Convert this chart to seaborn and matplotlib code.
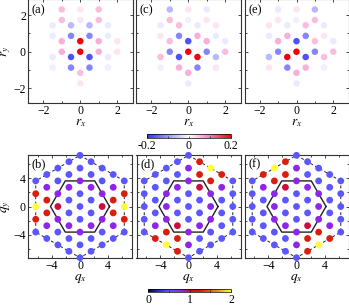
import numpy as np
import matplotlib
matplotlib.use("Agg")
import matplotlib.pyplot as plt
import seaborn as sns
from matplotlib.colors import LinearSegmentedColormap, Normalize
from matplotlib.cm import ScalarMappable

# ---- real-space correlations on the honeycomb lattice ----
# x in lattice units, y in steps of a/(2*sqrt(3))
rx = [-1, 0, 1,
      -1, 0, 1,
      -1.5, -0.5, 0.5, 1.5,
      -1.5, -0.5, 0.5, 1.5,
      -1, 0, 1, 2,
      -1, 0, 1, 2,
      -1.5, -0.5, 0.5, 1.5,
      -1.5, -0.5, 0.5, 1.5,
      0,
      0]
ry_step = [8, 8, 8, 6, 6, 6, 5, 5, 5, 5, 3, 3, 3, 3, 2, 2, 2, 2,
           0, 0, 0, 0, -1, -1, -1, -1, -3, -3, -3, -3, -4, -6]

corr_a = [.05, .02, .05,
          .05, .02, .05,
          -.02, -.07, -.07, -.02,
          -.02, -.12, -.12, -.02,
          .06, .2, .06, .02,
          .06, .2, .06, .02,
          -.02, -.17, -.17, -.02,
          -.015, -.12, -.12, -.015,
          .05,
          .02]
corr_c = [-.07, .02, -.02,
          .05, -.015, .02,
          -.02, .05, -.02, .02,
          .02, -.12, .06, -.02,
          .05, -.17, .06, -.02,
          -.12, .2, -.12, .05,
          .05, -.17, .2, -.07,
          -.015, .06, -.12, .02,
          .06,
          -.02]
corr_e = [-.02, .02, -.07,
          .02, -.015, .05,
          .02, -.02, .05, -.02,
          -.02, .06, -.12, .02,
          .06, -.17, .05, -.02,
          -.12, .2, -.12, .05,
          -.07, .2, -.17, .05,
          .02, -.12, .06, -.015,
          .06,
          -.02]

# ---- structure factor on the cluster momenta ----
# qx = m*pi/2, qy = n*pi/(2*sqrt(3))
q_m = [-4]*5 + [-3]*6 + [-2]*7 + [-1]*8 + [0]*9 + [1]*8 + [2]*7 + [3]*6 + [4]*5
q_n = ([4, 2, 0, -2, -4] + [5, 3, 1, -1, -3, -5] + [6, 4, 2, 0, -2, -4, -6]
       + [7, 5, 3, 1, -1, -3, -5, -7] + [8, 6, 4, 2, 0, -2, -4, -6, -8]
       + [7, 5, 3, 1, -1, -3, -5, -7] + [6, 4, 2, 0, -2, -4, -6]
       + [5, 3, 1, -1, -3, -5] + [4, 2, 0, -2, -4])

sq_b = [.5, 1.25, 2.0, 1.25, .5,
        .5, .85, 1.25, 1.25, .85, .5,
        .5, .5, .85, 1.0, .85, .5, .5,
        .5, .5, .85, .5, .5, .85, .5, .5,
        .5, .5, .85, .5, .5, .5, .85, .5, .5,
        .5, .5, .85, .5, .5, .85, .5, .5,
        .5, .5, .85, 1.0, .85, .5, .5,
        .5, .85, 1.25, 1.25, .85, .5,
        .5, 1.25, 2.0, 1.25, .5]
sq_d = [.5, .5, .5, .5, .5,
        .5, .5, .5, .5, .85, 1.25,
        .5, .5, .85, .85, .85, 1.25, 2.0,
        .5, .5, .85, .5, .5, 1.0, 1.25, 1.25,
        .5, .85, .85, .5, .5, .5, .85, .85, .5,
        1.25, 1.25, 1.0, .5, .5, .85, .5, .5,
        2.0, 1.25, .85, .85, .85, .5, .5,
        1.25, .85, .5, .5, .5, .5,
        .5, .5, .5, .5, .5]
sq_f = [.5, .5, .5, .5, .5,
        1.25, .85, .5, .5, .5, .5,
        2.0, 1.25, .85, .85, .85, .5, .5,
        1.25, 1.25, 1.0, .5, .5, .85, .5, .5,
        .5, .85, .85, .5, .5, .5, .85, .85, .5,
        .5, .5, .85, .5, .5, 1.0, 1.25, 1.25,
        .5, .5, .85, .85, .85, 1.25, 2.0,
        .5, .5, .5, .5, .85, 1.25,
        .5, .5, .5, .5, .5]

plt.rcParams["font.family"] = ["Liberation Serif", "DejaVu Serif"]
plt.rcParams["mathtext.fontset"] = "stix"

h = 1 / (2 * np.sqrt(3))
x_r = np.array(rx, dtype=float)
y_r = np.array(ry_step) * h
x_q = np.array(q_m) * np.pi / 2
y_q = np.array(q_n) * np.pi / (2 * np.sqrt(3))

cmap_r = LinearSegmentedColormap.from_list(
    "rw", [(0.0, (0.2, 0.2, 0.98)), (0.5, (1, 1, 1)),
           (0.72, (0.96, 0.55, 0.78)), (1.0, (0.95, 0.0, 0.05))])
cmap_q = LinearSegmentedColormap.from_list(
    "sq", [(0.0, (0.05, 0.0, 0.15)), (0.15, (0.2, 0.2, 0.85)),
           (0.25, (0.36, 0.34, 1.0)), (0.42, (0.55, 0.15, 0.95)),
           (0.5, (0.8, 0.05, 0.25)), (0.62, (0.85, 0.1, 0.05)),
           (0.82, (0.96, 0.5, 0.05)), (1.0, (1.0, 1.0, 0.2))])
norm_r = Normalize(-0.2, 0.2)
norm_q = Normalize(0, 2)

W, H = 349, 306
fig = plt.figure(figsize=(W / 100, H / 100), dpi=100)


def box(x0, y0, x1, y1):
    return fig.add_axes([x0 / W, 1 - y1 / H, (x1 - x0) / W, (y1 - y0) / H])


def style(ax):
    ax.tick_params(which="both", direction="in", top=True, right=True,
                   width=0.5, labelsize=8.5, pad=1.5)
    ax.tick_params(which="major", length=2.5)
    ax.tick_params(which="minor", length=1.5)
    for s in ax.spines.values():
        s.set_linewidth(0.8)
        s.set_color("#333333")


top = [("(a)", corr_a, (28, -1, 132.5, 103)),
       ("(c)", corr_c, (136, -1, 240.5, 103)),
       ("(e)", corr_e, (244.5, -1, 348.5, 103))]
for i, (lab, vals, rect) in enumerate(top):
    ax = box(*rect)
    sns.scatterplot(x=x_r, y=y_r, hue=vals, palette=cmap_r, hue_norm=norm_r,
                    s=22, linewidth=0, legend=False, ax=ax, zorder=3)
    ax.set_xlim(-2.83, 2.83)
    ax.set_ylim(-2.8, 2.88)
    ax.set_xticks([-2, 0, 2])
    ax.set_yticks([-2, 0, 2])
    ax.set_xticks([-1, 1], minor=True)
    ax.set_yticks([-1, 1], minor=True)
    style(ax)
    ax.set_xlabel("$r_x$", fontsize=9.5, labelpad=0)
    if i == 0:
        ax.set_ylabel("$r_y$", fontsize=9.5, labelpad=0)
    else:
        ax.set_ylabel("")
        ax.set_yticklabels([])
    ax.text(0.035, 0.95, lab, transform=ax.transAxes, ha="left", va="top",
            fontsize=9)

K = 4 * np.pi / 3
ang = np.deg2rad(np.arange(0, 420, 60))
bz_x, bz_y = K * np.cos(ang), K * np.sin(ang)
R2 = 4 * np.pi / np.sqrt(3)
ez_x, ez_y = R2 * np.cos(ang + np.pi / 6), R2 * np.sin(ang + np.pi / 6)

bottom = [("(b)", sq_b, (28, 155, 132, 258)),
          ("(d)", sq_d, (136.5, 155, 240.5, 258)),
          ("(f)", sq_f, (244.5, 155, 348.5, 258))]
for i, (lab, vals, rect) in enumerate(bottom):
    ax = box(*rect)
    ax.plot(bz_x, bz_y, color="#222222", lw=1.0, zorder=2)
    ax.plot(ez_x, ez_y, color="#222222", lw=0.7, ls=(0, (3, 2.5)), zorder=2)
    sns.scatterplot(x=x_q, y=y_q, hue=vals, palette=cmap_q, hue_norm=norm_q,
                    s=24, linewidth=0, legend=False, ax=ax, zorder=3,
                    clip_on=False)
    ax.set_xlim(-7.38, 7.38)
    ax.set_ylim(-7.3, 7.3)
    ax.set_xticks([-4, 0, 4])
    ax.set_yticks([-4, 0, 4])
    ax.set_xticks([-6, -2, 2, 6], minor=True)
    ax.set_yticks([-6, -2, 2, 6], minor=True)
    style(ax)
    ax.set_xlabel("$q_x$", fontsize=9.5, labelpad=0)
    if i == 0:
        ax.set_ylabel("$q_y$", fontsize=9.5, labelpad=0)
    else:
        ax.set_ylabel("")
        ax.set_yticklabels([])
    ax.text(0.035, 0.965, lab, transform=ax.transAxes, ha="left", va="top",
            fontsize=9)

for cmap, norm, rect, ticks, minor, labels in [
        (cmap_r, norm_r, (147, 134, 231, 137.5), [-0.2, 0, 0.2], [-0.1, 0.1],
         ["-0.2", "0", "0.2"]),
        (cmap_q, norm_q, (148, 288.5, 231, 292.3), [0, 1, 2], [0.5, 1.5],
         ["0", "1", "2"])]:
    cax = box(*rect)
    cb = fig.colorbar(ScalarMappable(norm=norm, cmap=cmap), cax=cax,
                      orientation="horizontal")
    cb.set_ticks(ticks)
    cb.set_ticklabels(labels)
    cb.ax.set_xticks(minor, minor=True)
    cb.outline.set_linewidth(0.5)
    cb.ax.tick_params(which="both", direction="in", length=1.5, width=0.4,
                      labelsize=8.5, pad=1.5)

fig.savefig("out.png", dpi=100)
